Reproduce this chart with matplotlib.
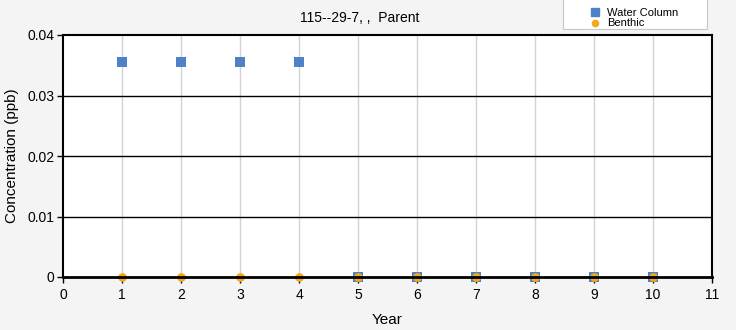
import matplotlib
matplotlib.use("Agg")
import matplotlib.pyplot as plt
from matplotlib.lines import Line2D
from matplotlib.patches import Rectangle

years = [1, 2, 3, 4, 5, 6, 7, 8, 9, 10]
water_column = [0.0355, 0.0355, 0.0355, 0.0355, 0, 0, 0, 0, 0, 0]
benthic = [0, 0, 0, 0, 0, 0, 0, 0, 0, 0]
x_ticks = list(range(0, 12))
y_ticks = [0, 0.01, 0.02, 0.03, 0.04]
y_tick_labels = ["0", "0.01", "0.02", "0.03", "0.04"]

plt.rcParams['font.family'] = ['Liberation Sans', 'DejaVu Sans']

W, H = 736, 330
fig = plt.figure(figsize=(7.36, 3.30), dpi=100, facecolor='#f4f4f4')
ax = fig.add_axes([63/W, 1-277/H, (712-63)/W, (277-35)/H])
ax.set_facecolor('white')

ax.set_xlim(0, 11)
ax.set_ylim(0, 0.04)
ax.set_xticks(x_ticks)
ax.set_yticks(y_ticks)
ax.set_yticklabels(y_tick_labels)

for x in x_ticks[1:-1]:
    ax.axvline(x, color='#d3d3d3', lw=1, zorder=1)
for y in y_ticks[1:-1]:
    ax.axhline(y, color='black', lw=1, zorder=1)

ax.scatter(years, water_column, marker='s', s=52, color='#4f81c7', zorder=3,
           linewidths=0, clip_on=False)
ax.scatter(years, benthic, marker='o', s=40, color='#f4a81d', zorder=4,
           linewidths=0, clip_on=False)

for sp in ax.spines.values():
    sp.set_color('black')
    sp.set_linewidth(1.5)
    sp.set_zorder(5)
ax.spines['bottom'].set_linewidth(2)
ax.tick_params(axis='both', labelsize=10, length=4, width=1, color='black', pad=2)
ax.tick_params(axis='x', pad=4)

ax.set_xlabel("Year", fontsize=11, labelpad=8)
ax.set_ylabel("Concentration (ppb)", fontsize=11, labelpad=6)
fig.text(360/W, 1-18/H, "115--29-7, ,  Parent", ha='center', va='center', fontsize=10)

# legend box
fig.patches.append(Rectangle((563/W, 1-29/H), (707-563)/W, 40/H, transform=fig.transFigure,
                             facecolor='white', edgecolor='#c8c8c8', lw=0.8))
fig.lines.append(Line2D([595/W], [1-12/H], marker='s', ls='', color='#4f81c7',
                        markersize=6, transform=fig.transFigure))
fig.lines.append(Line2D([595/W], [1-23/H], marker='o', ls='', color='#f4a81d',
                        markersize=4.5, transform=fig.transFigure))
fig.text(607/W, 1-13/H, "Water Column", ha='left', va='center', fontsize=8)
fig.text(607/W, 1-23/H, "Benthic", ha='left', va='center', fontsize=8)

fig.savefig("out.png", dpi=100, facecolor=fig.get_facecolor())
